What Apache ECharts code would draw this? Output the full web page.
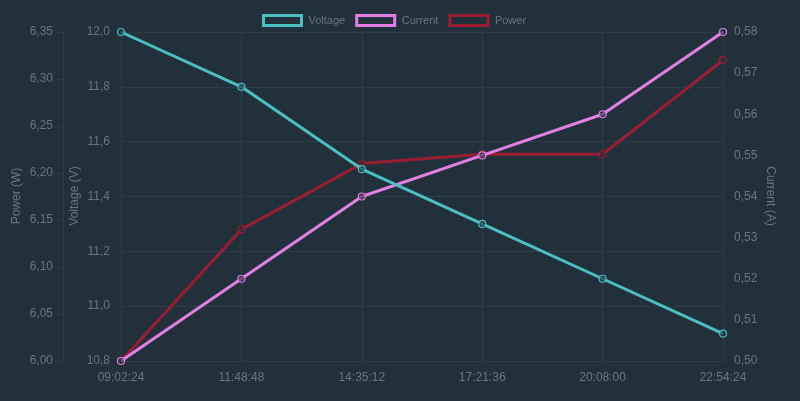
<!DOCTYPE html>
<html>
<head>
<meta charset="utf-8">
<script src="https://cdn.jsdelivr.net/npm/echarts@6/dist/echarts.min.js"></script>
<style>
  html, body { margin: 0; padding: 0; background: #22303c; }
  #chart { width: 800px; height: 401px; }
</style>
</head>
<body>
<div id="chart"></div>
<script>
// Time stamps on the x axis
const times = ['09:02:24', '11:48:48', '14:35:12', '17:21:36', '20:08:00', '22:54:24']

// Readings
const voltage = [12.0, 11.8, 11.5, 11.3, 11.1, 10.9]
const current = [0.50, 0.52, 0.54, 0.55, 0.56, 0.58]
const power = [6.00, 6.14, 6.21, 6.22, 6.22, 6.32]

const textColor = '#6b7680'
const gridColor = '#2d3c49'
const colors = { voltage: '#4bc0c0', current: '#e27fe2', power: '#9a1d33' }

// comma decimals like the original
const fmt = digits => v => v.toFixed(digits).replace('.', ',')

const chart = echarts.init(document.getElementById('chart'))

function lineSeries(name, data, color, yAxisIndex, z) {
  return {
    name,
    type: 'line',
    data,
    yAxisIndex,
    z,
    symbol: 'circle',
    symbolSize: 7,
    lineStyle: { color, width: 3 },
    itemStyle: { color: 'rgba(34,48,60,0.6)', borderColor: color, borderWidth: 1.2 },
    emphasis: { disabled: true }
  }
}

const legendItem = (name, color) => ({
  name,
  itemStyle: { color: 'transparent', borderColor: color, borderWidth: 3 }
})

// axis titles placed by hand (the built-in name placement drifts with labels)
function axisTitle(text, x, rotation) {
  return {
    type: 'text',
    x,
    y: 196,
    rotation,
    style: {
      text,
      fill: textColor,
      font: '12px "Liberation Sans", Arial, sans-serif',
      align: 'center',
      verticalAlign: 'middle'
    }
  }
}

chart.setOption({
  backgroundColor: '#22303c',
  animation: false,
  textStyle: { fontFamily: 'Liberation Sans, Arial, sans-serif' },
  legend: {
    top: 9,
    left: 257,
    icon: 'rect',
    itemWidth: 38,
    itemHeight: 10,
    itemGap: 10,
    textStyle: { color: textColor, fontSize: 11, padding: [0, 0, 0, 2] },
    data: [
      legendItem('Voltage', colors.voltage),
      legendItem('Current', colors.current),
      legendItem('Power', colors.power)
    ]
  },
  graphic: [
    axisTitle('Power (W)', 17, Math.PI / 2),
    axisTitle('Voltage (V)', 75, Math.PI / 2),
    axisTitle('Current (A)', 770, -Math.PI / 2)
  ],
  grid: { left: 121, right: 77, top: 32, bottom: 40 },
  xAxis: {
    type: 'category',
    data: times,
    boundaryGap: false,
    axisLine: { lineStyle: { color: gridColor } },
    axisTick: { show: false },
    axisLabel: { color: textColor, fontSize: 12, margin: 11 },
    splitLine: { show: true, lineStyle: { color: gridColor } }
  },
  yAxis: [
    {
      type: 'value',
      min: 10.8,
      max: 12.0,
      interval: 0.2,
      position: 'left',
      axisLine: { show: true, lineStyle: { color: gridColor } },
      axisTick: { show: false },
      axisLabel: { color: textColor, fontSize: 12, margin: 11, formatter: fmt(1) },
      splitLine: { lineStyle: { color: gridColor } }
    },
    {
      type: 'value',
      min: 0.5,
      max: 0.58,
      interval: 0.01,
      position: 'right',
      axisLine: { show: true, lineStyle: { color: gridColor } },
      axisTick: { show: false },
      axisLabel: { color: textColor, fontSize: 12, margin: 11, formatter: fmt(2) },
      splitLine: { show: false }
    },
    {
      type: 'value',
      min: 6.0,
      max: 6.35,
      interval: 0.05,
      position: 'left',
      offset: 58,
      axisLine: { show: true, lineStyle: { color: gridColor } },
      axisTick: { show: true, length: 7, lineStyle: { color: gridColor } },
      axisLabel: { color: textColor, fontSize: 12, margin: 10, formatter: fmt(2) },
      splitLine: { show: false }
    }
  ],
  series: [
    lineSeries('Voltage', voltage, colors.voltage, 0, 4),
    lineSeries('Current', current, colors.current, 1, 3),
    lineSeries('Power', power, colors.power, 2, 2)
  ]
})
</script>
</body>
</html>
